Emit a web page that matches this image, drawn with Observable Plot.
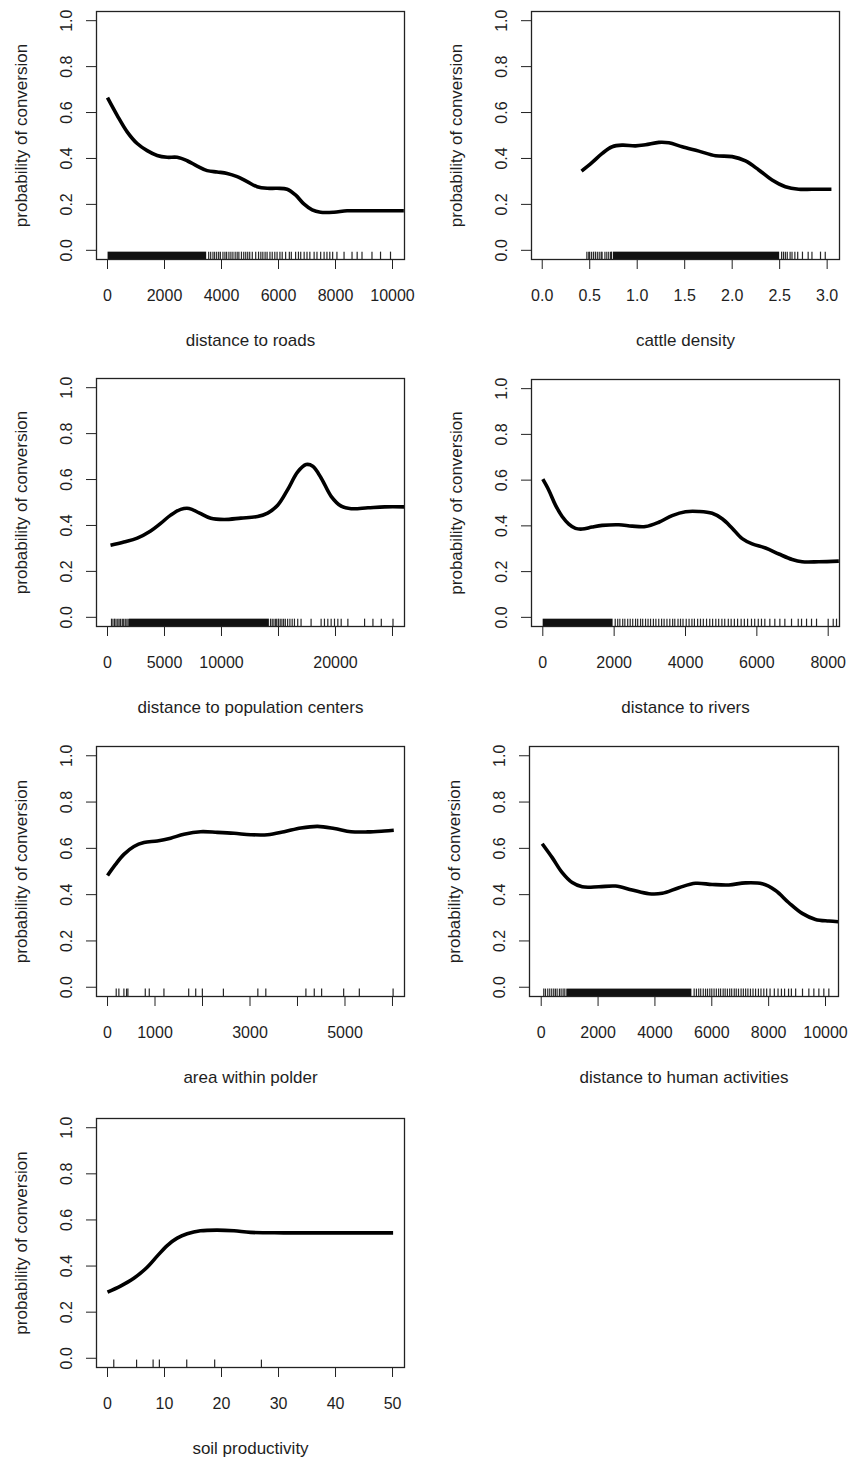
<!DOCTYPE html>
<html><head><meta charset="utf-8">
<script src="https://cdn.jsdelivr.net/npm/d3@7"></script>
<script src="https://cdn.jsdelivr.net/npm/@observablehq/plot@0.6"></script>
<style>
body{margin:0;background:#fff;}
#root{position:relative;width:850px;height:1459px;overflow:hidden;background:#fff;}
#root svg{position:absolute;}
</style></head><body><div id="root"></div>
<script>
// ---------- shared ----------
const yLabel = "probability of conversion";
const yTicks = [0, 0.2, 0.4, 0.6, 0.8, 1.0];

// ---------- panel 1: distance to roads ----------
const roadsLabel = "distance to roads";
const roadsX = [0, 339, 690, 1041, 1392, 1743, 2094, 2444, 2795, 3146, 3497, 3848, 4199, 4550, 4901, 5251, 5602, 5953, 6304, 6596, 6889, 7181, 7474, 7942, 8409, 9111, 10398];
const roadsY = [0.665, 0.588, 0.516, 0.465, 0.434, 0.413, 0.405, 0.405, 0.39, 0.367, 0.347, 0.341, 0.335, 0.321, 0.299, 0.277, 0.27, 0.27, 0.266, 0.241, 0.202, 0.176, 0.166, 0.166, 0.172, 0.172, 0.172];
const roadsRugBand = [[20, 3480]];
const roadsRug = [3550, 3620, 3700, 3760, 3830, 3900, 3960, 4050, 4120, 4180, 4260, 4330, 4400, 4480, 4550, 4610, 4700, 4780, 4850, 4920, 4990, 5080, 5200, 5300, 5380, 5450, 5530, 5600, 5700, 5780, 5870, 5950, 6050, 6130, 6250, 6380, 6450, 6600, 6700, 6780, 6900, 7000, 7100, 7250, 7350, 7480, 7600, 7700, 7800, 7900, 8050, 8300, 8580, 8760, 8930, 9280, 9580, 9930];
const roadsTicks = [0, 2000, 4000, 6000, 8000, 10000];
const roadsTickLabels = ["0", "2000", "4000", "6000", "8000", "10000"];

// ---------- panel 2: cattle density ----------
const cattleLabel = "cattle density";
const cattleX = [0.414, 0.526, 0.632, 0.737, 0.842, 0.982, 1.088, 1.228, 1.333, 1.474, 1.649, 1.825, 2.0, 2.14, 2.28, 2.42, 2.56, 2.7, 2.84, 3.045];
const cattleY = [0.345, 0.383, 0.422, 0.451, 0.458, 0.455, 0.46, 0.47, 0.468, 0.451, 0.432, 0.412, 0.408, 0.389, 0.35, 0.306, 0.277, 0.266, 0.266, 0.266];
const cattleRugBand = [[0.75, 2.5]];
const cattleRug = [0.47, 0.49, 0.5, 0.52, 0.54, 0.56, 0.58, 0.6, 0.62, 0.63, 0.66, 0.68, 0.7, 0.72, 0.73, 2.52, 2.54, 2.56, 2.58, 2.61, 2.63, 2.66, 2.69, 2.74, 2.8, 2.84, 2.93, 2.98];
const cattleTicks = [0, 0.5, 1.0, 1.5, 2.0, 2.5, 3.0];
const cattleTickLabels = ["0.0", "0.5", "1.0", "1.5", "2.0", "2.5", "3.0"];

// ---------- panel 3: distance to population centers ----------
const popLabel = "distance to population centers";
const popX = [264, 1437, 2610, 3783, 4663, 5543, 6422, 7155, 8035, 9062, 10235, 11701, 13167, 14047, 14927, 15806, 16686, 17419, 18006, 18739, 19619, 20499, 21378, 22845, 24311, 26070];
const popY = [0.314, 0.328, 0.345, 0.376, 0.409, 0.445, 0.47, 0.474, 0.455, 0.431, 0.426, 0.432, 0.439, 0.454, 0.488, 0.556, 0.633, 0.665, 0.658, 0.607, 0.527, 0.484, 0.473, 0.477, 0.481, 0.481];
const popRugBand = [[1930, 14200]];
const popRug = [350, 480, 620, 750, 900, 1020, 1150, 1300, 1420, 1560, 1700, 1820, 14300, 14450, 14600, 14750, 14850, 15000, 15150, 15300, 15450, 15600, 15800, 16000, 16200, 16400, 16686, 16979, 17859, 18739, 19032, 19326, 19619, 19912, 20205, 20499, 21085, 22551, 23284, 24018, 25044];
const popTicks = [0, 5000, 10000, 15000, 20000, 25000];
const popTickLabels = ["0", "5000", "10000", "", "20000", ""];

// ---------- panel 4: distance to rivers ----------
const riversLabel = "distance to rivers";
const riversX = [0, 168, 355, 542, 729, 916, 1103, 1383, 1664, 2131, 2505, 2879, 3252, 3626, 4000, 4374, 4748, 5028, 5308, 5589, 5869, 6243, 6617, 6991, 7271, 7738, 8299];
const riversY = [0.604, 0.556, 0.491, 0.441, 0.408, 0.389, 0.386, 0.395, 0.402, 0.405, 0.399, 0.397, 0.416, 0.445, 0.462, 0.463, 0.455, 0.431, 0.39, 0.344, 0.321, 0.303, 0.277, 0.253, 0.243, 0.243, 0.246];
const riversRugBand = [[10, 1970]];
const riversRug = [2030, 2100, 2160, 2240, 2300, 2380, 2450, 2520, 2600, 2660, 2740, 2800, 2880, 2950, 3020, 3100, 3170, 3250, 3330, 3400, 3480, 3560, 3640, 3700, 3790, 3860, 3930, 4020, 4100, 4180, 4250, 4340, 4420, 4500, 4590, 4680, 4760, 4850, 4930, 5020, 5100, 5200, 5280, 5370, 5460, 5560, 5650, 5740, 5850, 5940, 6040, 6130, 6224, 6364, 6504, 6645, 6785, 6972, 7160, 7253, 7393, 7533, 7673, 8000, 8141, 8233];
const riversTicks = [0, 2000, 4000, 6000, 8000];
const riversTickLabels = ["0", "2000", "4000", "6000", "8000"];

// ---------- panel 5: area within polder ----------
const polderLabel = "area within polder";
const polderX = [0, 169, 345, 556, 767, 1048, 1329, 1610, 1962, 2314, 2665, 3017, 3369, 3720, 4072, 4423, 4775, 5127, 5478, 5830, 6027];
const polderY = [0.483, 0.531, 0.574, 0.608, 0.625, 0.632, 0.644, 0.661, 0.672, 0.669, 0.665, 0.659, 0.659, 0.672, 0.688, 0.695, 0.686, 0.672, 0.671, 0.675, 0.678];
const polderRugBand = [];
const polderRug = [183, 239, 345, 401, 429, 795, 879, 1188, 1709, 1857, 1997, 2440, 3165, 3333, 4177, 4353, 4508, 4972, 5302, 6013];
const polderTicks = [0, 1000, 2000, 3000, 4000, 5000, 6000];
const polderTickLabels = ["0", "1000", "", "3000", "", "5000", ""];

// ---------- panel 6: distance to human activities ----------
const humanLabel = "distance to human activities";
const humanX = [35, 387, 739, 1090, 1442, 2028, 2614, 3200, 3787, 4256, 4842, 5428, 6014, 6600, 7186, 7773, 8242, 8710, 9179, 9648, 10117, 10445];
const humanY = [0.62, 0.56, 0.495, 0.452, 0.434, 0.434, 0.437, 0.42, 0.404, 0.406, 0.43, 0.449, 0.444, 0.442, 0.451, 0.447, 0.418, 0.365, 0.319, 0.293, 0.286, 0.283];
const humanRugBand = [[900, 5300]];
const humanRug = [90, 150, 230, 300, 370, 440, 500, 560, 640, 700, 770, 830, 5380, 5460, 5540, 5610, 5700, 5780, 5850, 5930, 6000, 6080, 6160, 6240, 6310, 6400, 6470, 6550, 6630, 6700, 6790, 6860, 6940, 7030, 7110, 7190, 7270, 7360, 7450, 7540, 7640, 7730, 7830, 7930, 8050, 8200, 8330, 8450, 8560, 8700, 8800, 8950, 9191, 9414, 9590, 9766, 9941, 10117];
const humanTicks = [0, 2000, 4000, 6000, 8000, 10000];
const humanTickLabels = ["0", "2000", "4000", "6000", "8000", "10000"];

// ---------- panel 7: soil productivity ----------
const soilLabel = "soil productivity";
const soilX = [0, 2.28, 4.62, 6.96, 8.71, 10.47, 12.22, 13.98, 16.3, 19.2, 22.2, 25.1, 30.9, 39.7, 50.1];
const soilY = [0.287, 0.313, 0.347, 0.395, 0.443, 0.489, 0.521, 0.54, 0.553, 0.556, 0.553, 0.546, 0.544, 0.544, 0.544];
const soilRugBand = [];
const soilRug = [1.1, 5.1, 8.0, 9.1, 13.9, 18.8, 27.0];
const soilTicks = [0, 10, 20, 30, 40, 50];
const soilTickLabels = ["0", "10", "20", "30", "40", "50"];

// ---------- layout ----------
const panels = [
  {label: roadsLabel, xs: roadsX, ys: roadsY, band: roadsRugBand, rug: roadsRug, ticks: roadsTicks, tickLabels: roadsTickLabels,
   left: 0, top: 0, w: 425, h: 366, ml: 96, mr: 21, mt: 11, mb: 107, xd: [-386, 10421]},
  {label: cattleLabel, xs: cattleX, ys: cattleY, band: cattleRugBand, rug: cattleRug, ticks: cattleTicks, tickLabels: cattleTickLabels,
   left: 425, top: 0, w: 425, h: 366, ml: 106, mr: 11, mt: 11, mb: 107, xd: [-0.113, 3.13]},
  {label: popLabel, xs: popX, ys: popY, band: popRugBand, rug: popRug, ticks: popTicks, tickLabels: popTickLabels,
   left: 0, top: 366, w: 425, h: 366, ml: 96, mr: 21, mt: 12, mb: 106, xd: [-965, 26053]},
  {label: riversLabel, xs: riversX, ys: riversY, band: riversRugBand, rug: riversRug, ticks: riversTicks, tickLabels: riversTickLabels,
   left: 425, top: 366, w: 425, h: 366, ml: 106, mr: 11, mt: 13, mb: 106, xd: [-317, 8317]},
  {label: polderLabel, xs: polderX, ys: polderY, band: polderRugBand, rug: polderRug, ticks: polderTicks, tickLabels: polderTickLabels,
   left: 0, top: 732, w: 425, h: 366, ml: 96, mr: 21, mt: 14, mb: 102, xd: [-232, 6253]},
  {label: humanLabel, xs: humanX, ys: humanY, band: humanRugBand, rug: humanRug, ticks: humanTicks, tickLabels: humanTickLabels,
   left: 425, top: 732, w: 425, h: 366, ml: 104, mr: 12, mt: 14, mb: 102, xd: [-412, 10457]},
  {label: soilLabel, xs: soilX, ys: soilY, band: soilRugBand, rug: soilRug, ticks: soilTicks, tickLabels: soilTickLabels,
   left: 0, top: 1098, w: 425, h: 361, ml: 96, mr: 21, mt: 20, mb: 92, xd: [-1.93, 52.1]}
];

const yDomain = [-0.04, 1.04];
const rugTop = -0.008;
const root = document.getElementById("root");

for (const p of panels) {
  const data = p.xs.map((x, i) => ({x, y: p.ys[i]}));
  const labelOf = new Map(p.ticks.map((t, i) => [t, p.tickLabels[i]]));
  const svg = Plot.plot({
    width: p.w, height: p.h,
    marginLeft: p.ml, marginRight: p.mr, marginTop: p.mt, marginBottom: p.mb,
    style: {fontFamily: "'Liberation Sans', Arial, Helvetica, sans-serif", fontSize: "16px", color: "#1e1e1e", background: "transparent", overflow: "visible"},
    x: {domain: p.xd},
    y: {domain: yDomain},
    marks: [
      Plot.rect(p.band, {x1: d => d[0], x2: d => d[1], y1: () => yDomain[0], y2: () => rugTop, fill: "#111"}),
      Plot.ruleX(p.rug, {x: d => d, y1: () => yDomain[0], y2: () => rugTop, stroke: "#000", strokeWidth: 1.2, strokeOpacity: 0.85}),
      Plot.line(data, {x: "x", y: "y", stroke: "#000", strokeWidth: 3.6, curve: "catmull-rom", strokeLinecap: "butt"}),
      Plot.frame({stroke: "#222", strokeWidth: 1.3}),
      Plot.axisX({ticks: p.ticks, tickFormat: d => labelOf.get(d) ?? "", tickSize: 10, tickPadding: 20, label: null, stroke: "#222"}),
      Plot.axisY({ticks: yTicks, tickFormat: d => d.toFixed(1), tickSize: 10, tickPadding: 15, tickRotate: -90, label: null, stroke: "#222"}),
      Plot.text([p.label], {frameAnchor: "bottom", dy: 81, textAnchor: "middle", lineAnchor: "middle", fontSize: 17, text: d => d}),
      Plot.text([yLabel], {frameAnchor: "left", dx: -75, rotate: -90, textAnchor: "middle", lineAnchor: "middle", fontSize: 17, text: d => d})
    ]
  });
  svg.style.left = p.left + "px";
  svg.style.top = p.top + "px";
  root.appendChild(svg);
}
</script>
</body></html>
